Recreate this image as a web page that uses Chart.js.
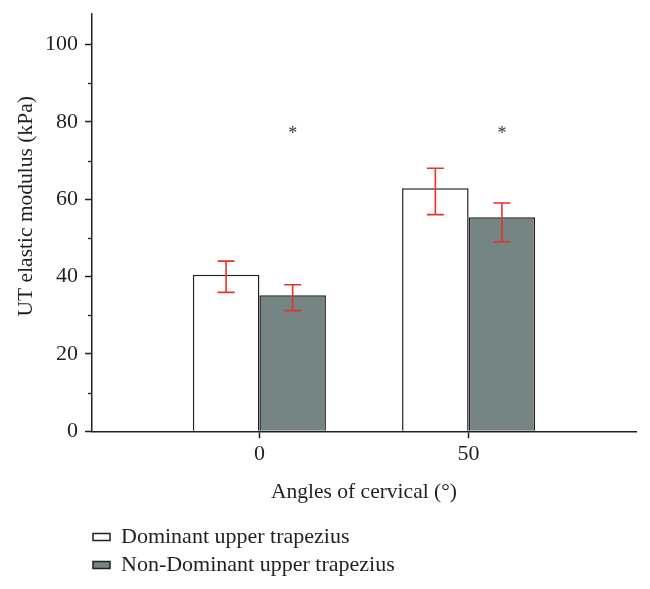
<!DOCTYPE html>
<html><head><meta charset="utf-8">
<script src="https://cdn.jsdelivr.net/npm/chart.js@4.4.1/dist/chart.umd.min.js"></script>
<style>html,body{margin:0;padding:0;background:#fff}</style>
</head><body>
<canvas id="c" width="650" height="589"></canvas>
<script>
// ---- data ----
const angles = [0, 50];
const seriesNames = ['Dominant upper trapezius', 'Non-Dominant upper trapezius'];
const dominant = [40.5, 62.8];
const nonDominant = [35.2, 55.3];
const dominantErrLow = [35.9, 56.0];
const dominantErrHigh = [44.0, 68.0];
const nonDominantErrLow = [31.2, 49.0];
const nonDominantErrHigh = [37.9, 59.0];
const significanceY = [78, 78];
const significanceLabels = ['*', '*'];
const yMajorTicks = [0, 20, 40, 60, 80, 100];
const yMinorTicks = [10, 30, 50, 70, 90];
const xTicks = [0, 50];

const FONT = "'Liberation Serif', 'DejaVu Serif', serif";
const TEXT = '#231f20';
const AXIS = '#231f20';
const RED = '#e5322b';

const extras = {
  id: 'extras',
  afterLayout(chart) {
    // align legend items with the y axis
    if (chart.legend) { chart.legend.left -= 5; chart.legend.right -= 5; }
  },
  afterDatasetsDraw(chart) {
    const ctx = chart.ctx, ys = chart.scales.y;
    const sets = [[dominantErrLow, dominantErrHigh], [nonDominantErrLow, nonDominantErrHigh]];
    ctx.save();
    ctx.strokeStyle = RED; ctx.lineWidth = 1.6;
    sets.forEach((s, di) => {
      chart.getDatasetMeta(di).data.forEach((bar, i) => {
        const x = bar.x, y1 = ys.getPixelForValue(s[0][i]), y2 = ys.getPixelForValue(s[1][i]);
        const hw = bar.width * 0.128;
        ctx.beginPath();
        ctx.moveTo(x, y1); ctx.lineTo(x, y2);
        ctx.moveTo(x - hw, y1); ctx.lineTo(x + hw, y1);
        ctx.moveTo(x - hw, y2); ctx.lineTo(x + hw, y2);
        ctx.stroke();
      });
    });
    // significance markers above the non-dominant bars
    ctx.fillStyle = '#333'; ctx.font = '18px ' + FONT;
    ctx.textAlign = 'center'; ctx.textBaseline = 'alphabetic';
    chart.getDatasetMeta(1).data.forEach((bar, i) => {
      const m = ctx.measureText(significanceLabels[i]);
      const yc = ys.getPixelForValue(significanceY[i]);
      ctx.fillText(significanceLabels[i], bar.x, yc + (m.actualBoundingBoxAscent - m.actualBoundingBoxDescent) / 2);
    });
    // minor ticks on y axis
    ctx.strokeStyle = AXIS; ctx.lineWidth = 1.3;
    const left = chart.chartArea.left;
    yMinorTicks.forEach(v => {
      const y = Math.round(ys.getPixelForValue(v)) + 0.5;
      ctx.beginPath(); ctx.moveTo(left - 4, y); ctx.lineTo(left, y); ctx.stroke();
    });
    ctx.restore();
  }
};

new Chart(document.getElementById('c'), {
  type: 'bar',
  data: {
    datasets: [
      { label: seriesNames[0], data: angles.map((a, i) => ({ x: a, y: dominant[i] })),
        backgroundColor: '#ffffff', borderColor: '#231f20', borderWidth: 1.5 },
      { label: seriesNames[1], data: angles.map((a, i) => ({ x: a, y: nonDominant[i] })),
        backgroundColor: '#748583', borderColor: '#231f20', borderWidth: 1.5 }
    ]
  },
  options: {
    responsive: false, animation: false, devicePixelRatio: 1,
    categoryPercentage: 0.636, barPercentage: 1,
    layout: { padding: { top: 13.5, right: 14, bottom: 3, left: 0 } },
    plugins: {
      tooltip: { enabled: false },
      legend: {
        position: 'bottom', align: 'start', fullSize: false,
        labels: { boxWidth: 17, boxHeight: 7, padding: 6, color: TEXT,
          font: { family: FONT, size: 22 } }
      }
    },
    scales: {
      x: {
        type: 'linear', min: -40, max: 90, offset: false,
        afterBuildTicks: s => { s.ticks = xTicks.map(v => ({ value: v })); },
        grid: { offset: false, drawOnChartArea: false, drawTicks: true, tickLength: 7, tickColor: AXIS, tickWidth: 1.5 },
        border: { display: true, color: AXIS, width: 1.5 },
        ticks: { color: TEXT, padding: 3, font: { family: FONT, size: 22 } },
        title: { display: true, text: 'Angles of cervical (°)', color: TEXT,
          font: { family: FONT, size: 21.5 }, padding: { top: 9, bottom: 14.5 } }
      },
      y: {
        min: 0, max: 108,
        afterBuildTicks: s => { s.ticks = yMajorTicks.map(v => ({ value: v })); },
        afterFit: s => { s.width = 92; s.paddingTop = 0; s.paddingBottom = 0; },
        grid: { drawOnChartArea: false, drawTicks: true, tickLength: 7, tickColor: AXIS, tickWidth: 1.5 },
        border: { display: true, color: AXIS, width: 1.5 },
        ticks: { color: TEXT, padding: 7, font: { family: FONT, size: 22 } },
        title: { display: true, text: '\u2002\u2002\u2002UT elastic modulus (kPa)', color: TEXT,
          font: { family: FONT, size: 21.5 }, padding: { top: 13, bottom: 0 } }
      }
    }
  },
  plugins: [extras]
});
</script>
</body></html>
